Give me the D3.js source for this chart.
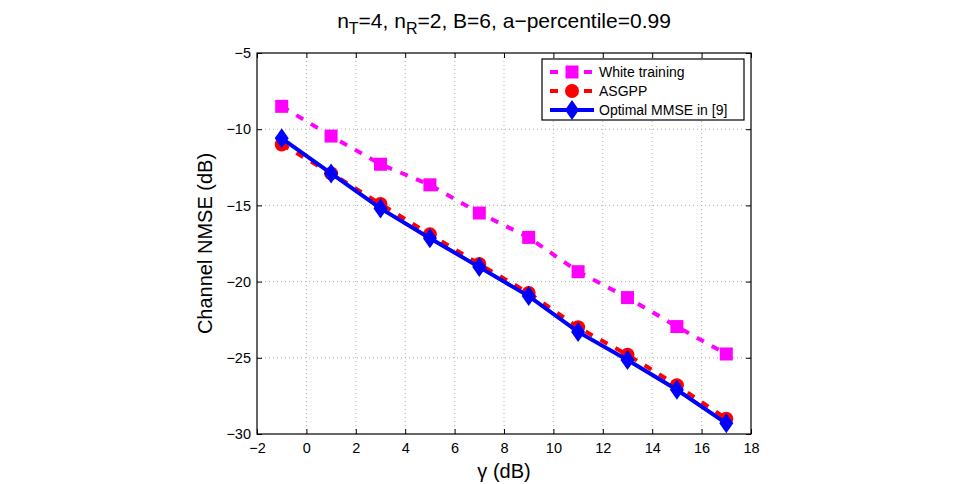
<!DOCTYPE html>
<html>
<head>
<meta charset="utf-8">
<script src="https://cdn.jsdelivr.net/npm/d3@7"></script>
<style>
body { margin: 0; background: #fff; }
text { font-family: "Liberation Sans", Arial, sans-serif; }
</style>
</head>
<body>
<svg id="chart" width="966" height="484"></svg>
<script>
// data
var gammaDb = [-1, 1, 3, 5, 7, 9, 11, 13, 15, 17];
var whiteTraining = [-8.5, -10.45, -12.3, -13.65, -15.5, -17.1, -19.35, -21.05, -22.95, -24.75];
var asgpp = [-11.0, -12.9, -14.9, -16.9, -18.85, -20.75, -23.0, -24.8, -26.8, -29.0];
var optimalMmse = [-10.6, -12.9, -15.2, -17.15, -19.05, -20.95, -23.3, -25.15, -27.1, -29.3];
var xTicks = [-2, 0, 2, 4, 6, 8, 10, 12, 14, 16, 18];
var yTicks = [-5, -10, -15, -20, -25, -30];

var pLeft = 257, pRight = 751, pTop = 53, pBottom = 434;

var svg = d3.select("#chart");

var x = d3.scaleLinear().domain([-2, 18]).range([pLeft, pRight]);
var y = d3.scaleLinear().domain([-30, -5]).range([pBottom, pTop]);

// grid
var grid = svg.append("g");
grid.selectAll("line.vx").data(xTicks.slice(1, -1)).enter().append("line")
  .attr("x1", d => x(d)).attr("x2", d => x(d))
  .attr("y1", pTop).attr("y2", pBottom)
  .style("stroke", "#b0b0b0").style("stroke-dasharray", "1,3").style("stroke-width", 1);
grid.selectAll("line.hy").data(yTicks.slice(1, -1)).enter().append("line")
  .attr("x1", pLeft).attr("x2", pRight)
  .attr("y1", d => y(d)).attr("y2", d => y(d))
  .style("stroke", "#b0b0b0").style("stroke-dasharray", "1,3").style("stroke-width", 1);

// axes, ticks pointing inward like matlab
var fmt = d => String(d).replace("-", "\u2212");
svg.append("g").attr("transform", "translate(0," + pBottom + ")")
  .call(d3.axisBottom(x).tickValues(xTicks).tickSizeInner(-5).tickSizeOuter(0).tickPadding(9).tickFormat(fmt));
svg.append("g").attr("transform", "translate(" + pLeft + ",0)")
  .call(d3.axisLeft(y).tickValues(yTicks).tickSizeInner(-5).tickSizeOuter(0).tickPadding(6).tickFormat(fmt));
svg.append("g").attr("transform", "translate(0," + pTop + ")")
  .call(d3.axisTop(x).tickValues(xTicks).tickSizeInner(-5).tickSizeOuter(0).tickFormat(""));
svg.append("g").attr("transform", "translate(" + pRight + ",0)")
  .call(d3.axisRight(y).tickValues(yTicks).tickSizeInner(-5).tickSizeOuter(0).tickFormat(""));

svg.selectAll(".domain").remove();
svg.selectAll(".tick line").style("stroke", "#000");
svg.selectAll(".tick text").style("font-size", "14.5px").style("fill", "#000");

svg.append("rect").attr("x", pLeft).attr("y", pTop)
  .attr("width", pRight - pLeft).attr("height", pBottom - pTop)
  .style("fill", "none").style("stroke", "#000").style("stroke-width", 1.2);

// series
var series = [
  { name: "White training", values: whiteTraining, color: "#ff00ff", dash: "8,9", marker: "square" },
  { name: "ASGPP", values: asgpp, color: "#ff0000", dash: "8,9", marker: "circle" },
  { name: "Optimal MMSE in [9]", values: optimalMmse, color: "#0000ff", dash: null, marker: "diamond" }
];

var line = d3.line().x(d => x(d[0])).y(d => y(d[1]));

function drawMarker(g, kind, cx, cy, color) {
  if (kind === "square") {
    g.append("rect").attr("x", cx - 6.5).attr("y", cy - 6.5).attr("width", 13).attr("height", 13)
      .style("fill", color);
  } else if (kind === "circle") {
    g.append("circle").attr("cx", cx).attr("cy", cy).attr("r", 7).style("fill", color);
  } else {
    g.append("path").attr("d", "M" + cx + "," + (cy - 10) + "L" + (cx + 7) + "," + cy +
      "L" + cx + "," + (cy + 10) + "L" + (cx - 7) + "," + cy + "Z").style("fill", color);
  }
}

series.forEach(function(s) {
  var pts = gammaDb.map((g, i) => [g, s.values[i]]);
  var g = svg.append("g");
  g.append("path").datum(pts).attr("d", line)
    .style("fill", "none").style("stroke", s.color).style("stroke-width", 4)
    .style("stroke-dasharray", s.dash);
  pts.forEach(p => drawMarker(g, s.marker, x(p[0]), y(p[1]), s.color));
});

// legend
var lg = svg.append("g");
lg.append("rect").attr("x", 542).attr("y", 59).attr("width", 202).attr("height", 61)
  .style("fill", "#fff").style("stroke", "#000").style("stroke-width", 1.2);
series.forEach(function(s, i) {
  var ly = 72 + i * 19;
  lg.append("line").attr("x1", 550).attr("x2", 594).attr("y1", ly).attr("y2", ly)
    .style("stroke", s.color).style("stroke-width", 4).style("stroke-dasharray", s.dash ? "8,9" : null);
  drawMarker(lg, s.marker, 572, ly, s.color);
  lg.append("text").attr("x", 599).attr("y", ly + 5).text(s.name)
    .style("font-size", "14px");
});

// labels
var title = svg.append("text").attr("x", 504).attr("y", 28).attr("text-anchor", "middle")
  .style("font-size", "21px");
title.append("tspan").text("n");
title.append("tspan").attr("dy", 6).style("font-size", "16px").text("T");
title.append("tspan").attr("dy", -6).text("=4, n");
title.append("tspan").attr("dy", 6).style("font-size", "16px").text("R");
title.append("tspan").attr("dy", -6).text("=2, B=6, a\u2212percentile=0.99");

svg.append("text").attr("x", 504).attr("y", 478).attr("text-anchor", "middle")
  .style("font-size", "20px").text("\u03b3 (dB)");

svg.append("text").attr("transform", "translate(212," + ((pTop + pBottom) / 2) + ") rotate(-90)")
  .attr("text-anchor", "middle").style("font-size", "20px").text("Channel NMSE (dB)");
</script>
</body>
</html>
